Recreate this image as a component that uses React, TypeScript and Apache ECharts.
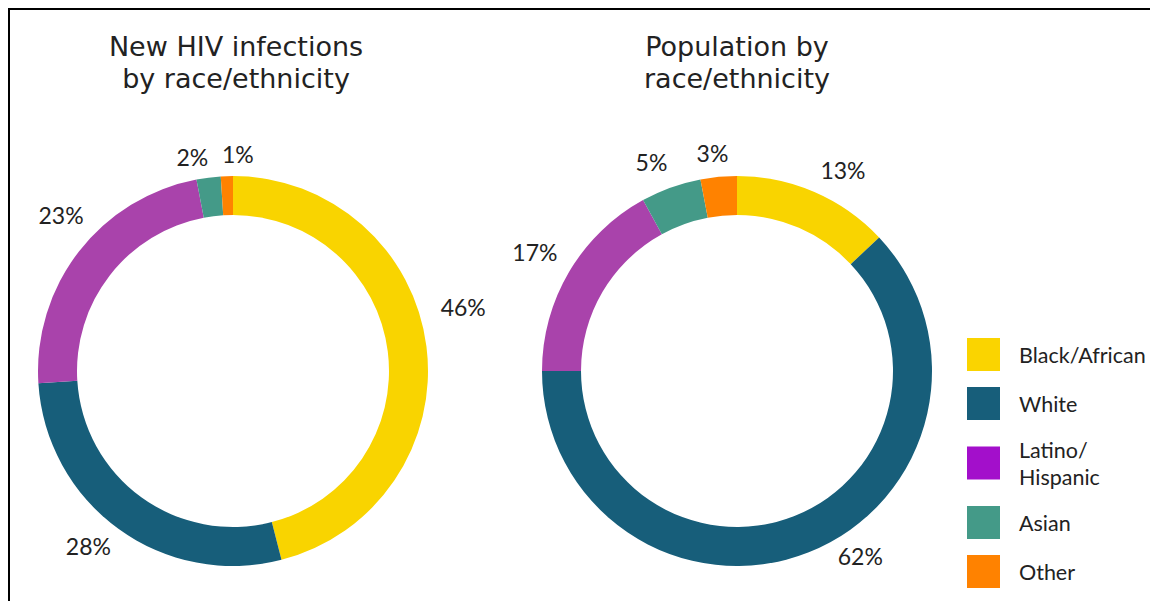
import React, { useEffect, useRef } from "react";
import * as echarts from "echarts";

const categories = ["Black/African", "White", "Latino/\nHispanic", "Asian", "Other"];
const newInfections = [46, 28, 23, 2, 1];
const population = [13, 62, 17, 5, 3];
const sliceColors = ["#F9D400", "#175E7A", "#A943AB", "#449A88", "#FF8200"];
const legendColors = ["#FAD400", "#175E7A", "#A30FCB", "#449A88", "#FF8200"];
const titles = ["New HIV infections\nby race/ethnicity", "Population by\nrace/ethnicity"];

// small label nudges (pixels) applied on top of ECharts' own label placement
const labelNudgeLeft = [[3, -35], [-10, -10], [9, -16], [-12, 13], [12, 12]];
const labelNudgeRight = [[15, 9], [39, -28], [-5, -2], [-8, 6], [-3, 10]];

export default function App() {
  const ref = useRef<HTMLDivElement>(null);
  useEffect(() => {
    if (!ref.current) return;
    const chart = echarts.init(ref.current, undefined, { renderer: "svg" });
    const ringSeries = (values: number[], center: [number, number]) => ({
      type: "pie",
      center,
      radius: [156, 195],
      startAngle: 90,
      clockwise: true,
      label: { show: false },
      labelLine: { show: false },
      emphasis: { disabled: true },
      data: categories.map((name, i) => ({
        name,
        value: values[i],
        itemStyle: { color: sliceColors[i] },
      })),
    });
    // transparent outer ring that only carries the percentage labels
    const labelSeries = (values: number[], center: [number, number], nudges: number[][]) => ({
      type: "pie",
      center,
      radius: [204, 248],
      startAngle: 90,
      clockwise: true,
      silent: true,
      avoidLabelOverlap: false,
      label: {
        show: true,
        position: "inside",
        formatter: "{c}%",
        fontFamily: "Lato",
        fontSize: 23,
        color: "#222",
        textBorderWidth: 0,
      },
      labelLine: { show: false },
      labelLayout: (p: any) => {
        const n = nudges[p.dataIndex] || [0, 0];
        return { dx: n[0], dy: n[1] };
      },
      emphasis: { disabled: true },
      itemStyle: { color: "rgba(0,0,0,0)" },
      data: categories.map((name, i) => ({ name, value: values[i] })),
    });
    chart.setOption({
      animation: false,
      title: titles.map((t, i) => ({
        text: t,
        left: i === 0 ? 226 : 727,
        top: 20,
        textAlign: "center",
        padding: 0,
        textStyle: {
          fontFamily: "DejaVu Sans",
          fontSize: 27,
          fontWeight: "normal",
          lineHeight: 32,
          color: "#222",
        },
      })),
      legend: {
        orient: "vertical",
        left: 957,
        top: 328,
        padding: 0,
        itemWidth: 33,
        itemHeight: 33,
        itemGap: 16,
        icon: "rect",
        selectedMode: false,
        textStyle: {
          fontFamily: "Lato",
          fontSize: 21.5,
          lineHeight: 27,
          color: "#222",
          padding: [0, 0, 0, 14],
        },
        data: categories.map((name, i) => ({
          name,
          itemStyle: { color: legendColors[i] },
        })),
      },
      series: [
        ringSeries(newInfections, [223, 361]),
        ringSeries(population, [727, 361]),
        labelSeries(newInfections, [223, 361], labelNudgeLeft),
        labelSeries(population, [727, 361], labelNudgeRight),
      ],
    });
    return () => chart.dispose();
  }, []);
  return (
    <div
      style={{
        position: "fixed",
        left: 8,
        top: 8,
        width: 1142,
        height: 593,
        borderTop: "2px solid #000",
        borderLeft: "2px solid #000",
        boxSizing: "border-box",
        background: "#fff",
      }}
    >
      <div ref={ref} style={{ width: 1140, height: 591 }} />
    </div>
  );
}
